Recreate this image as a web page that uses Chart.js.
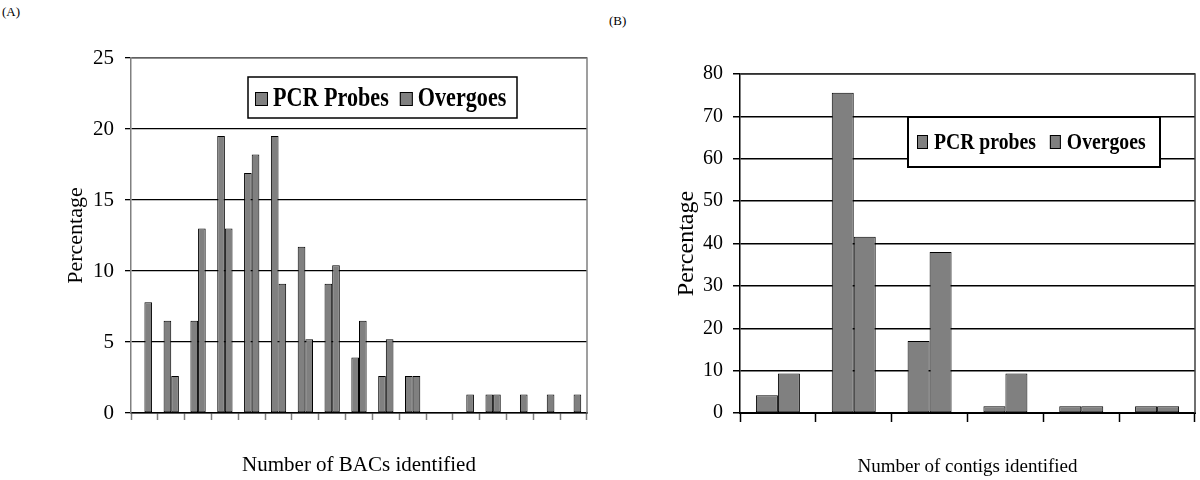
<!DOCTYPE html>
<html>
<head>
<meta charset="utf-8">
<script src="https://cdn.jsdelivr.net/npm/chart.js@4.4.1/dist/chart.umd.min.js"></script>
<style>
  html, body { margin: 0; padding: 0; background: #fff; }
  body { width: 1200px; height: 480px; position: relative; overflow: hidden; font-family: 'Liberation Serif', 'Times New Roman', serif; }
  .panel { position: absolute; top: 0; width: 600px; height: 480px; }
  .tag { position: absolute; font-size: 13px; color: #000; }
</style>
</head>
<body>
<div class="tag" style="left:2px; top:4px;">(A)</div>
<div class="tag" style="left:609px; top:13px;">(B)</div>
<div class="panel" style="left:0;"><canvas id="bacChart" width="600" height="480"></canvas></div>
<div class="panel" style="left:600px;"><canvas id="contigChart" width="600" height="480"></canvas></div>
<script>
// (A) number of BACs identified per probe
const bacCategories = ['1', '2', '3', '4', '5', '6', '7', '8', '9', '10', '11', '12', '13', '14', '15', '16', '17'];
const bacPcrProbes = [0, 6.5, 6.5, 19.5, 16.9, 19.5, 11.7, 9.1, 3.9, 2.6, 2.6, 0, 0, 1.3, 0, 0, 0];
const bacOvergoes = [7.8, 2.6, 13.0, 13.0, 18.2, 9.1, 5.2, 10.4, 6.5, 5.2, 2.6, 0, 1.3, 1.3, 1.3, 1.3, 1.3];
const bacTicks = [0, 5, 10, 15, 20, 25];

// (B) number of contigs identified per probe
const contigCategories = ['1', '2', '3', '4', '5', '6'];
const contigPcrProbes = [4.2, 75.6, 17.0, 1.6, 1.6, 1.6];
const contigOvergoes = [9.3, 41.6, 38.0, 9.3, 1.6, 1.6];
const contigTicks = [0, 10, 20, 30, 40, 50, 60, 70, 80];

const FAMILY = "'Liberation Serif', 'Times New Roman', serif";
Chart.defaults.font.family = FAMILY;
Chart.defaults.color = '#000';

// top and right edge of the plot area
const plotFrame = {
  id: 'plotFrame',
  beforeDatasetsDraw(chart, args, opts) {
    const { ctx, chartArea: a } = chart;
    ctx.save();
    ctx.strokeStyle = opts.color;
    ctx.lineWidth = 1.5;
    ctx.beginPath();
    ctx.moveTo(a.left, a.top);
    ctx.lineTo(a.right, a.top);
    ctx.lineTo(a.right, a.bottom);
    ctx.stroke();
    ctx.restore();
  },
};

// boxed legend floating inside the plot
const boxLegend = {
  id: 'boxLegend',
  afterDraw(chart, args, opts) {
    const { ctx } = chart;
    ctx.save();
    ctx.fillStyle = '#fff';
    ctx.fillRect(opts.x, opts.y, opts.w, opts.h);
    ctx.strokeStyle = '#000';
    ctx.lineWidth = opts.border;
    ctx.strokeRect(opts.x, opts.y, opts.w, opts.h);
    ctx.font = `bold ${opts.size}px ${FAMILY}`;
    ctx.textBaseline = 'alphabetic';
    let x = opts.x + opts.padLeft;
    chart.data.datasets.forEach((ds) => {
      ctx.fillStyle = ds.backgroundColor;
      ctx.fillRect(x, opts.baseline - opts.sqH, opts.sqW, opts.sqH);
      ctx.lineWidth = 1;
      ctx.strokeRect(x + 0.5, opts.baseline - opts.sqH + 0.5, opts.sqW - 1, opts.sqH - 1);
      x += opts.sqW + opts.sqGap;
      ctx.save();
      ctx.translate(x, opts.baseline);
      ctx.scale(opts.squeeze, 1);
      ctx.fillStyle = '#000';
      ctx.fillText(ds.label, 0, 0);
      ctx.restore();
      x += ctx.measureText(ds.label).width * opts.squeeze + opts.itemGap;
    });
    ctx.restore();
  },
};

const barSet = (label, data, pct) => ({
  label,
  data,
  backgroundColor: '#808080',
  borderColor: '#000',
  borderWidth: 1,
  borderSkipped: false,
  categoryPercentage: pct,
  barPercentage: 1.0,
});

const fixedTicks = (values) => (scale) => {
  scale.ticks = values.map((v) => ({ value: v }));
};

const bacCtx = document.getElementById('bacChart').getContext('2d');
// eslint-disable-next-line no-undef, no-unused-vars
const bacChart = new Chart(bacCtx, {
  type: 'bar',
  data: {
    labels: bacCategories,
    datasets: [
      barSet('PCR Probes', bacPcrProbes, 0.57),
      barSet('Overgoes', bacOvergoes, 0.57),
    ],
  },
  plugins: [plotFrame, boxLegend],
  options: {
    responsive: false,
    animation: false,
    layout: { padding: { left: 0, top: 58, right: 13, bottom: 0 } },
    plugins: {
      legend: { display: false },
      tooltip: { enabled: false },
      plotFrame: { color: '#808080' },
      boxLegend: {
        x: 248, y: 77, w: 269, h: 41, border: 1.5,
        padLeft: 7, sqW: 13, sqH: 14, sqGap: 5, itemGap: 11,
        baseline: 106, size: 27, squeeze: 0.82,
      },
    },
    scales: {
      x: {
        grid: { drawOnChartArea: false, drawTicks: true, tickLength: 7, tickColor: '#808080', tickWidth: 1.5 },
        border: { color: '#000', width: 1.5 },
        ticks: { display: false },
        title: { display: true, text: 'Number of BACs identified', font: { size: 21 }, padding: { top: 0, bottom: 2 } },
        afterFit: (scale) => { scale.height = 67; },
      },
      y: {
        min: 0,
        max: 25,
        afterBuildTicks: fixedTicks(bacTicks),
        grid: { color: '#000', lineWidth: 1.3, tickLength: 6, tickColor: '#000' },
        border: { color: '#808080', width: 1.5 },
        ticks: { font: { size: 21 }, padding: 11 },
        title: { display: true, text: 'Percentage', font: { size: 22 }, padding: { top: 63, bottom: 0 } },
        afterFit: (scale) => { scale.width = 131; },
      },
    },
  },
});

const contigCtx = document.getElementById('contigChart').getContext('2d');
// eslint-disable-next-line no-undef, no-unused-vars
const contigChart = new Chart(contigCtx, {
  type: 'bar',
  data: {
    labels: contigCategories,
    datasets: [
      barSet('PCR probes', contigPcrProbes, 0.58),
      barSet('Overgoes', contigOvergoes, 0.58),
    ],
  },
  plugins: [plotFrame, boxLegend],
  options: {
    responsive: false,
    animation: false,
    layout: { padding: { left: 0, top: 74, right: 5, bottom: 0 } },
    plugins: {
      legend: { display: false },
      tooltip: { enabled: false },
      plotFrame: { color: '#404040' },
      boxLegend: {
        x: 308, y: 117, w: 252, h: 50, border: 2,
        padLeft: 9, sqW: 11, sqH: 14, sqGap: 6, itemGap: 14,
        baseline: 149, size: 24, squeeze: 0.82,
      },
    },
    scales: {
      x: {
        grid: { drawOnChartArea: false, drawTicks: true, tickLength: 9, tickColor: '#000', tickWidth: 1.5 },
        border: { color: '#000', width: 2 },
        ticks: { display: false },
        title: { display: true, text: 'Number of contigs identified', font: { size: 19 }, padding: { top: 0, bottom: 2 } },
        afterFit: (scale) => { scale.height = 67; },
      },
      y: {
        min: 0,
        max: 80,
        afterBuildTicks: fixedTicks(contigTicks),
        grid: { color: '#000', lineWidth: 1.5, tickLength: 7, tickColor: '#000' },
        border: { color: '#000', width: 1.5 },
        ticks: { font: { size: 20 }, padding: 10 },
        title: { display: true, text: 'Percentage', font: { size: 24 }, padding: { top: 72, bottom: 0 } },
        afterFit: (scale) => { scale.width = 140; },
      },
    },
  },
});
</script>
</body>
</html>
